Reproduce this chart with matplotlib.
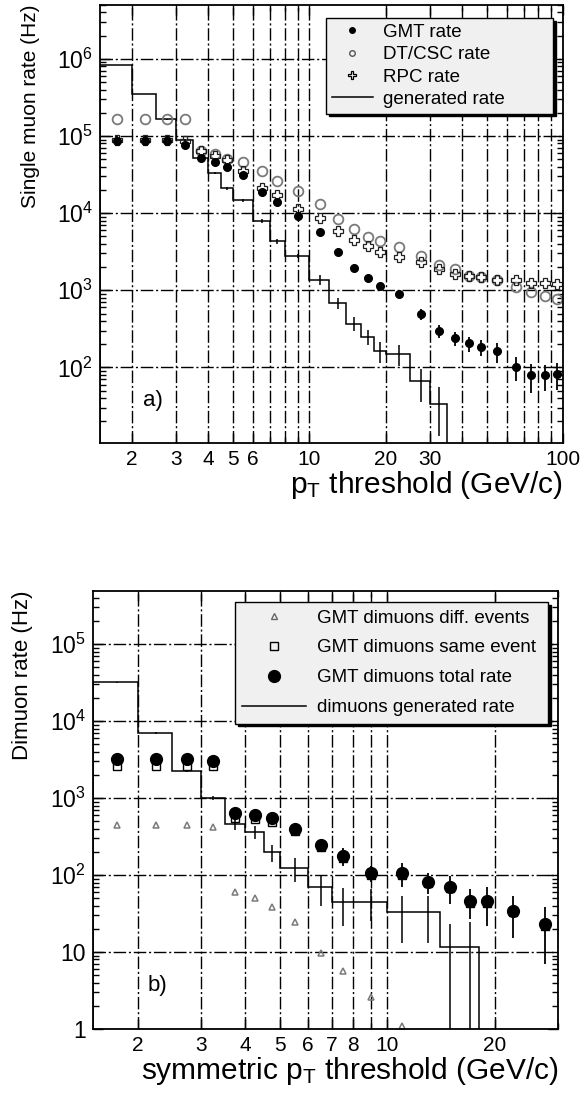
import numpy as np
import matplotlib
matplotlib.use('Agg')
import matplotlib.pyplot as plt
from matplotlib.ticker import FixedLocator, LogLocator, FuncFormatter, NullFormatter
from matplotlib.lines import Line2D

plt.rcParams['font.family'] = ['Liberation Sans', 'DejaVu Sans']
plt.rcParams['mathtext.fontset'] = 'custom'
plt.rcParams['mathtext.rm'] = 'Liberation Sans'
plt.rcParams['mathtext.it'] = 'Liberation Sans:italic'
plt.rcParams['mathtext.bf'] = 'Liberation Sans:bold'

# ---- a) single muon rates ----
pt_edges = [1.5, 2, 2.5, 3, 3.5, 4, 4.5, 5, 6, 7, 8, 10, 12, 14, 16, 18, 20,
            25, 30, 35, 40, 45, 50, 60, 70, 80, 90, 100]
gmt_rate = [86000, 86000, 86000, 76000, 52000, 46000, 40000, 31000, 18600, 13900,
            9100, 5700, 3100, 1950, 1450, 1130, 890, 490, 295, 240, 205, 185, 162,
            102, 79, 79, 83]
gmt_err = [1500, 1500, 1500, 1500, 1200, 1100, 1000, 900, 700, 600, 450, 350, 220,
           150, 130, 110, 90, 75, 55, 48, 45, 45, 48, 36, 32, 30, 32]
dt_rate = [166000, 166000, 166000, 166000, 64000, 59000, 50000, 46000, 35000, 26000,
           19500, 13000, 8300, 6200, 4900, 4400, 3600, 2750, 2100, 1870, 1550, 1480,
           1350, 1100, 940, 850, 760]
rpc_rate = [90000, 90000, 90000, 85000, 64000, 55000, 49000, 35000, 21000, 17000,
            11200, 8700, 5900, 4500, 3750, 3100, 2700, 2300, 1870, 1650, 1550, 1480,
            1350, 1350, 1230, 1230, 1200]
gen_rate = [840000, 350000, 166000, 89000, 52000, 33000, 21000, 14700, 7900, 4300,
            2800, 1380, 690, 370, 250, 165, 150, 66, 34]
gen_err = [4000, 3000, 2500, 2500, 1500, 1200, 900, 700, 500, 300, 150, 220, 110,
           75, 55, 50, 45, 30, 21]
top_ticks = [2, 3, 4, 5, 6, 10, 20, 30, 100]

# ---- b) dimuon rates ----
dm_edges = [1.5, 2, 2.5, 3, 3.5, 4, 4.5, 5, 6, 7, 8, 10, 12, 14, 16, 18, 20, 25, 30]
dm_total = [3200, 3200, 3200, 3000, 640, 600, 550, 400, 245, 177, 106, 106, 81, 70,
            46, 46, 34, 23]
dm_total_err = [150, 150, 150, 150, 60, 60, 60, 35, 25, 45, 25, 37, 25, 28, 19, 24,
                19, 16]
dm_same = [2600, 2600, 2600, 2600, 550, 530, 490, 370, 230, 165, 100, 100, 78, 67,
           44, 44, 33, 22]
dm_diff = [450, 450, 450, 420, 60, 50, 38, 24.5, 9.8, 5.6, 2.6, 1.1]
dm_gen = [32000, 7000, 2250, 1000, 460, 365, 198, 124, 70, 45, 45, 33, 33, 11.5, 11.5]
dm_gen_err = [500, 300, 100, 50, 70, 75, 50, 42, 30, 23, 20, 20, 20, 11.5, 13]
bot_ticks = [2, 3, 4, 5, 6, 7, 8, 10, 20]

grid_ls = (0, (9, 2, 1.5, 2))


def ylab(v, pos):
    e = int(round(np.log10(v)))
    if e == 0:
        return '1'
    if e == 1:
        return '10'
    return r'$10^{%d}$' % e


def style_axes(ax, xticks, xlim, ylim):
    ax.set_xscale('log')
    ax.set_yscale('log')
    ax.set_xlim(*xlim)
    ax.set_ylim(*ylim)
    ax.xaxis.set_major_locator(FixedLocator(xticks))
    ax.xaxis.set_major_formatter(FuncFormatter(lambda v, p: '%g' % v))
    ax.xaxis.set_minor_locator(LogLocator(base=10, subs=range(1, 10)))
    ax.xaxis.set_minor_formatter(NullFormatter())
    ax.yaxis.set_major_locator(LogLocator(base=10))
    ax.yaxis.set_minor_locator(LogLocator(base=10, subs=range(2, 10)))
    ax.yaxis.set_major_formatter(FuncFormatter(ylab))
    ax.yaxis.set_minor_formatter(NullFormatter())
    ax.grid(True, axis='x', which='both', color='k', lw=1.0, ls=grid_ls)
    ax.grid(True, axis='y', which='major', color='k', lw=1.0, ls=grid_ls)
    ax.tick_params(which='both', direction='in', right=True, top=True)
    ax.tick_params(which='major', length=7, width=1.0, labelsize=15, pad=5)
    ax.tick_params(axis='y', which='major', labelsize=16.5)
    ax.tick_params(which='minor', length=4, width=1.0)
    for s in ax.spines.values():
        s.set_linewidth(1.3)


fig = plt.figure(figsize=(5.85, 10.94), dpi=100)

# top panel
ax1 = fig.add_axes([0.1709, 0.5951, 0.7915, 0.4004])
style_axes(ax1, top_ticks, (1.5, 100), (10.5, 5e6))

pt_c = 0.5 * (np.array(pt_edges[:-1]) + np.array(pt_edges[1:]))
gen_edges = pt_edges[:len(gen_rate) + 1]
gen_c = pt_c[:len(gen_rate)]

ax1.stairs(gen_rate, gen_edges, baseline=10.5, color='k', lw=1.1)
ax1.errorbar(gen_c, gen_rate, yerr=gen_err, fmt='none', ecolor='k', elinewidth=1.1)
ax1.errorbar(pt_c, gmt_rate, yerr=gmt_err, fmt='none', ecolor='k', elinewidth=1.3)
l_dt, = ax1.plot(pt_c, dt_rate, 'o', ms=7, mfc='none', mec='#7a7a7a', mew=1.3,
                 ls='none')
l_rpc, = ax1.plot(pt_c, rpc_rate, 'P', ms=6.5, mfc='none', mec='#202020', mew=0.9,
                  ls='none')
l_gmt, = ax1.plot(pt_c, gmt_rate, 'o', ms=5.5, color='k', ls='none')

h1 = [Line2D([], [], marker='o', ms=4, color='k', ls='none'),
      Line2D([], [], marker='o', ms=4, mfc='none', mec='#555555', mew=1, ls='none'),
      Line2D([], [], marker='P', ms=5.5, mfc='none', mec='k', mew=0.9, ls='none'),
      Line2D([], [], color='k', lw=1.1)]
leg1 = ax1.legend(h1, ['GMT rate', 'DT/CSC rate', 'RPC rate', 'generated rate'],
                  loc='upper left', bbox_to_anchor=(0.488, 0.5, 0.490, 0.470),
                  mode='expand', borderaxespad=0, fontsize=13.5, fancybox=False,
                  edgecolor='k', facecolor='#f0f0f0', framealpha=1,
                  shadow={'color': 'k', 'alpha': 1}, handlelength=2.2,
                  handletextpad=0.55, labelspacing=0.28, borderpad=0.3)
leg1.get_frame().set_linewidth(1.0)

ax1.text(0.114, 0.098, 'a)', transform=ax1.transAxes, fontsize=16,
         ha='center', va='center')
ax1.set_ylabel('Single muon rate (Hz)', fontsize=15, loc='top', labelpad=12)
ax1.set_xlabel(r'p$_{\mathregular{T}}$ threshold (GeV/c)', fontsize=21.5,
               loc='right', labelpad=0)

# bottom panel
ax2 = fig.add_axes([0.1590, 0.0594, 0.7949, 0.4004])
style_axes(ax2, bot_ticks, (1.5, 30), (1, 4.9e5))

dm_c = 0.5 * (np.array(dm_edges[:-1]) + np.array(dm_edges[1:]))
dmg_edges = dm_edges[:len(dm_gen) + 1]
dmg_c = dm_c[:len(dm_gen)]

ax2.stairs(dm_gen, dmg_edges, baseline=1, color='k', lw=1.1)
ax2.errorbar(dmg_c, dm_gen, yerr=dm_gen_err, fmt='none', ecolor='k', elinewidth=1.1)
ax2.plot(dm_c[:len(dm_diff)], dm_diff, '^', ms=5, mfc='none', mec='#7a7a7a',
         mew=1.1, ls='none')
ax2.plot(dm_c, dm_same, 's', ms=5.5, mfc='none', mec='k', mew=1.0, ls='none')
ax2.errorbar(dm_c, dm_total, yerr=dm_total_err, fmt='o', ms=8.5, color='k',
             elinewidth=1.3)

h2 = [Line2D([], [], marker='^', ms=5, mfc='none', mec='#666666', mew=1, ls='none'),
      Line2D([], [], marker='s', ms=5.5, mfc='none', mec='k', mew=1, ls='none'),
      Line2D([], [], marker='o', ms=8.5, color='k', ls='none'),
      Line2D([], [], color='k', lw=1.1)]
leg2 = ax2.legend(h2, ['GMT dimuons diff. events', 'GMT dimuons same event',
                       'GMT dimuons total rate', 'dimuons generated rate'],
                  loc='upper left', bbox_to_anchor=(0.305, 0.5, 0.673, 0.475),
                  mode='expand', borderaxespad=0, fontsize=13.5, fancybox=False,
                  edgecolor='k', facecolor='#f0f0f0', framealpha=1,
                  shadow={'color': 'k', 'alpha': 1}, handlelength=3.4,
                  handletextpad=0.6, labelspacing=0.68, borderpad=0.4)
leg2.get_frame().set_linewidth(1.0)

ax2.text(0.138, 0.10, 'b)', transform=ax2.transAxes, fontsize=16,
         ha='center', va='center')
ax2.set_ylabel('Dimuon rate (Hz)', fontsize=16, loc='top', labelpad=12)
ax2.set_xlabel(r'symmetric p$_{\mathregular{T}}$ threshold (GeV/c)', fontsize=21.5,
               loc='right', labelpad=0)

plt.savefig('out.png', dpi=100)
